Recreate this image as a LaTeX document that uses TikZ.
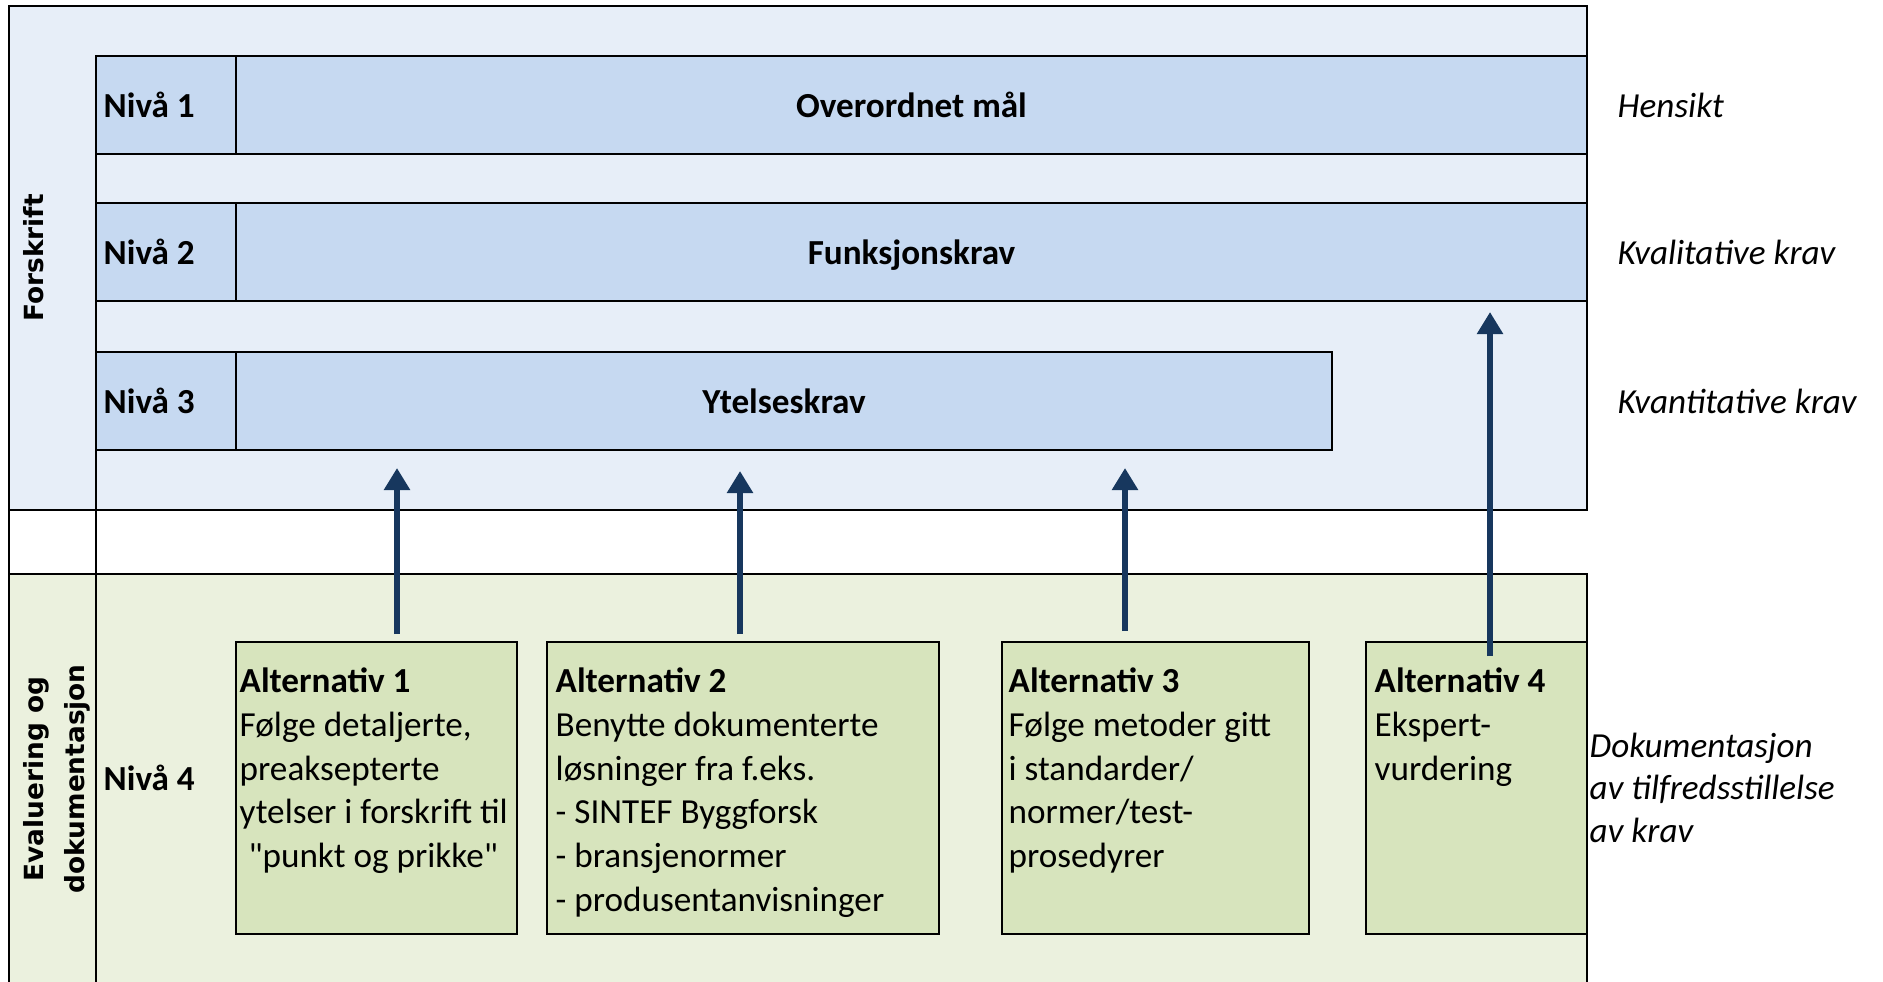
\documentclass[tikz,border=0pt]{standalone}
\usepackage{fontspec}
\setmainfont{Carlito}
\newfontfamily\sidefont{DejaVu Sans}
\usetikzlibrary{arrows.meta}

\definecolor{forskriftbg}{RGB}{231,238,248}
\definecolor{nivabar}{RGB}{198,217,241}
\definecolor{evalbg}{RGB}{235,241,222}
\definecolor{altfill}{RGB}{215,228,189}
\definecolor{arrowblue}{RGB}{23,55,94}

\tikzset{
  frame/.style={draw=black, line width=0.8pt},
  barbox/.style={draw=black, line width=0.8pt, fill=nivabar},
  altbox/.style={draw=black, line width=0.7pt, fill=altfill},
  nivtext/.style={font=\bfseries, anchor=base west, inner sep=0pt},
  bartext/.style={font=\bfseries, anchor=base, inner sep=0pt},
  sidetext/.style={font=\itshape, anchor=base west, inner sep=0pt},
  alttext/.style={align=left, anchor=north west, inner sep=0pt, font=\fontsize{10}{12.45}\selectfont},
  doctext/.style={align=left, anchor=north west, inner sep=0pt, font=\itshape\fontsize{10}{12.1}\selectfont},
  vlabel/.style={rotate=90, align=center, font=\sidefont\bfseries\fontsize{7.5}{11.5}\selectfont},
  uparrow/.style={draw=arrowblue, line width=1.7pt, -{Triangle[width=0.25cm,length=0.22cm]}},
}

\begin{document}
\begin{tikzpicture}[x=0.01cm, y=-0.01cm]
  \useasboundingbox (0,0) rectangle (1883,981);
  \clip (0,0) rectangle (1883,981);

  % forskrift
  \draw[frame, fill=forskriftbg] (9,6) rectangle (1587,510);
  % evaluering og dokumentasjon
  \fill[evalbg] (9,574) rectangle (1587,990);
  \draw[frame] (9,990) -- (9,574) -- (1587,574) -- (1587,990);
  \draw[frame] (9,510) -- (9,574);
  \draw[frame] (96,56) -- (96,990);

  \def\h{98};
  \foreach \y/\xr/\num/\name/\txt in {56/1587/1/mal/Overordnet mål, 203/1587/2/funksjon/Funksjonskrav, 352/1332/3/ytelse/Ytelseskrav} {
    \draw[barbox] (96,\y) rectangle (236,\y+\h);
    \draw[barbox] (236,\y) rectangle (\xr,\y+\h);
    \node[nivtext] (niva\num) at (103,\y+61) {Nivå \num};
    \node[bartext] (\name) at ({(236+\xr)/2},\y+61) {\txt};
  }

  \node[sidetext] (hensikt) at (1617,117) {Hensikt};
  \node[sidetext] (kvalitativ) at (1617,264) {Kvalitative krav};
  \node[sidetext] (kvantitativ) at (1617,413) {Kvantitative krav};

  \node[vlabel] (forskrift) at (34,258) {Forskrift};
  \node[vlabel] (evaluering) at (57,779) {Evaluering og\\dokumentasjon};
  \node[nivtext] (niva4) at (103,790) {Nivå 4};

  % alternativer
  \foreach \i/\xl/\xr in {1/236/517, 2/547/939, 3/1002/1309, 4/1366/1587}
    \draw[altbox] (\xl,642) rectangle (\xr,934);

  \node[alttext] (alt1) at (239,667) {\textbf{Alternativ 1}\\Følge detaljerte,\\preaksepterte\\ytelser i forskrift til\\\hspace*{0.25em}\textquotedbl punkt og prikke\textquotedbl};
  \node[alttext] (alt2) at (555,667) {\textbf{Alternativ 2}\\Benytte dokumenterte\\løsninger fra f.eks.\\- SINTEF Byggforsk\\- bransjenormer\\- produsentanvisninger};
  \node[alttext] (alt3) at (1008,667) {\textbf{Alternativ 3}\\Følge metoder gitt\\i standarder/\\normer/test-\\prosedyrer};
  \node[alttext] (alt4) at (1374,667) {\textbf{Alternativ 4}\\Ekspert-\\vurdering};

  \node[doctext] (dok) at (1589,732) {Dokumentasjon\\av tilfredsstillelse\\av krav};

  \foreach \i/\x/\ys/\ye in {1/397/634/468, 2/740/634/471, 3/1125/631/468, 4/1490/656/312} {
    \coordinate (start\i) at (\x,\ys);
    \coordinate (tip\i) at (\x,\ye);
    \draw[uparrow] (start\i) -- (tip\i);
  }
\end{tikzpicture}
\end{document}
